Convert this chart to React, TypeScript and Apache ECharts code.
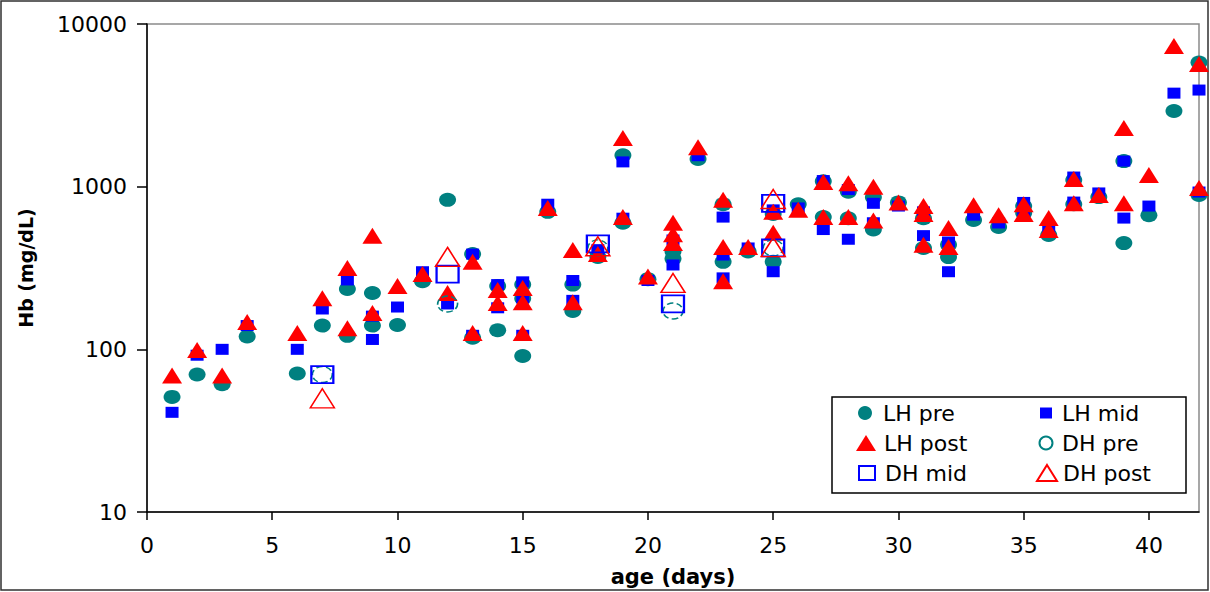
import React, { useEffect, useRef } from "react";
import * as echarts from "echarts";

// [age (days), Hb (mg/dL)]
const lhPre: [number, number][] = [
  [1, 51], [2, 70], [3, 61], [4, 120], [6, 71], [7, 140], [8, 235], [8, 121],
  [9, 222], [9, 140], [10, 141], [11, 262], [12, 830], [13, 385], [13, 118],
  [14, 245], [14, 131], [15, 250], [15, 205], [15, 91], [16, 700], [17, 250],
  [17, 172], [18, 370], [19, 1560], [19, 600], [20, 270], [21, 400], [21, 360],
  [22, 1480], [23, 780], [23, 345], [24, 400], [25, 680], [25, 345], [26, 780],
  [27, 1080], [27, 650], [28, 930], [28, 640], [29, 860], [29, 545], [30, 800],
  [31, 640], [31, 420], [32, 369], [32, 440], [33, 624], [34, 565], [35, 690],
  [35, 760], [36, 505], [37, 1098], [37, 780], [38, 863], [39, 1436], [39, 450],
  [40, 668], [41, 2918], [42, 5800], [42, 888],
];
const lhMid: [number, number][] = [
  [1, 41], [2, 92], [3, 100], [4, 140], [6, 100], [7, 177], [8, 267], [9, 160],
  [9, 115], [10, 182], [11, 300], [12, 190], [13, 385], [13, 122], [14, 250],
  [14, 180], [15, 260], [15, 207], [15, 122], [16, 780], [17, 265], [17, 200],
  [18, 410], [19, 1420], [19, 640], [20, 265], [21, 470], [21, 330], [22, 1550],
  [23, 650], [23, 380], [23, 275], [24, 420], [25, 720], [25, 300], [26, 740],
  [27, 1090], [27, 545], [28, 960], [28, 475], [29, 790], [29, 600], [30, 760],
  [31, 700], [31, 500], [32, 457], [32, 300], [33, 668], [34, 598], [35, 800],
  [35, 700], [36, 557], [37, 1146], [37, 804], [38, 915], [39, 1436], [39, 641],
  [40, 760], [41, 3758], [42, 3926], [42, 927],
];
const lhPost: [number, number][] = [
  [1, 69], [2, 99], [3, 69], [4, 147], [6, 126], [7, 206], [8, 316], [8, 135],
  [9, 500], [9, 167], [10, 245], [11, 290], [12, 222], [13, 345], [13, 126],
  [14, 232], [14, 193], [15, 238], [15, 195], [15, 126], [16, 740], [17, 408],
  [17, 195], [18, 385], [19, 1990], [19, 650], [20, 280], [21, 600], [21, 510],
  [21, 450], [22, 1750], [23, 830], [23, 425], [23, 262], [24, 425], [25, 700],
  [25, 520], [26, 720], [27, 1070], [27, 650], [28, 1050], [28, 650], [29, 1000],
  [29, 620], [30, 800], [31, 760], [31, 680], [31, 440], [32, 557], [32, 425],
  [33, 770], [34, 668], [35, 780], [35, 680], [36, 641], [36, 541], [37, 1114],
  [37, 790], [38, 888], [39, 2291], [39, 790], [40, 1178], [41, 7312],
  [42, 5675], [42, 980],
];
const dhPre: [number, number][] = [[7, 70], [12, 190], [18, 420], [21, 172], [25, 420]];
const dhMid: [number, number][] = [[7, 70], [12, 290], [18, 445], [21, 190], [25, 790], [25, 420]];
const dhPost: [number, number][] = [[7, 50], [12, 370], [18, 430], [21, 256], [25, 840], [25, 425]];

const seriesNames = ["LH pre", "LH mid", "LH post", "DH pre", "DH mid", "DH post"];

const TEAL = "#008080";
const BLUE = "#0000FF";
const RED = "#FF0000";
const FONT = "DejaVu Sans";

export default function App() {
  const ref = useRef<HTMLDivElement>(null);
  useEffect(() => {
    if (!ref.current) return;
    const chart = echarts.init(ref.current, null, { renderer: "svg" });

    const legendSpec = [
      { name: seriesNames[0], cx: 866, cy: 413, w: 16, h: 14, tx: 884 },
      { name: seriesNames[1], cx: 1046, cy: 413, w: 12, h: 11, tx: 1062 },
      { name: seriesNames[2], cx: 866, cy: 443, w: 20, h: 16, tx: 884 },
      { name: seriesNames[3], cx: 1046, cy: 443, w: 15, h: 13, tx: 1062 },
      { name: seriesNames[4], cx: 866, cy: 473, w: 16, h: 14, tx: 884 },
      { name: seriesNames[5], cx: 1046, cy: 473, w: 20, h: 16, tx: 1062 },
    ];

    const legends = legendSpec.map((l) => ({
      data: [l.name],
      left: l.cx - l.w / 2,
      top: l.cy - 12,
      padding: 0,
      itemWidth: l.w,
      itemHeight: l.h,
      selectedMode: false,
      z: 6,
      textStyle: {
        fontFamily: FONT,
        fontSize: 22,
        color: "#000",
        lineHeight: 24,
        padding: [0, 0, 0, Math.max(0, l.tx - (l.cx + l.w / 2 + 5))],
      },
    }));

    const base = { type: "scatter", emphasis: { disabled: true } };

    chart.setOption({
      animation: false,
      backgroundColor: "#fff",
      textStyle: { fontFamily: FONT },
      tooltip: { show: false },
      grid: {
        left: 147,
        top: 24,
        width: 1052,
        height: 488,
        show: true,
        borderColor: "#8a8a8a",
        borderWidth: 1.5,
        backgroundColor: "transparent",
      },
      legend: legends,
      graphic: [
        {
          type: "rect",
          z: 0,
          silent: true,
          shape: { x: 1, y: 1, width: 1207, height: 589 },
          style: { fill: "none", stroke: "#303030", lineWidth: 1.5 },
        },
        {
          type: "rect",
          z: 3,
          silent: true,
          shape: { x: 832, y: 397, width: 354, height: 96 },
          style: { fill: "#fff", stroke: "#000", lineWidth: 1.5 },
        },
      ],
      xAxis: {
        type: "value",
        min: 0,
        max: 42,
        interval: 5,
        name: "age (days)",
        nameLocation: "middle",
        nameGap: 54,
        nameTextStyle: { fontFamily: FONT, fontSize: 21, fontWeight: "bold", color: "#000" },
        axisLine: { show: true, onZero: false, lineStyle: { color: "#000", width: 1.5 } },
        axisTick: { show: true, inside: false, length: 8, lineStyle: { color: "#000", width: 1.5 } },
        axisLabel: {
          showMaxLabel: false,
          margin: 22,
          fontFamily: FONT,
          fontSize: 22,
          color: "#000",
        },
        splitLine: { show: false },
      },
      yAxis: {
        type: "log",
        logBase: 10,
        min: 10,
        max: 10000,
        name: "Hb (mg/dL)",
        nameLocation: "middle",
        nameGap: 112,
        nameTextStyle: { fontFamily: FONT, fontSize: 19, fontWeight: "bold", color: "#000" },
        axisLine: { show: true, onZero: false, lineStyle: { color: "#000", width: 1.5 } },
        axisTick: { show: true, inside: false, length: 10, lineStyle: { color: "#000", width: 1.5 } },
        axisLabel: {
          margin: 20,
          fontFamily: FONT,
          fontSize: 22,
          color: "#000",
          formatter: (v: number) => String(Math.round(v)),
        },
        splitLine: { show: false },
        minorTick: { show: false },
      },
      series: [
        {
          ...base,
          name: seriesNames[0],
          data: lhPre,
          symbol: "circle",
          symbolSize: [17, 14],
          itemStyle: { color: TEAL, opacity: 1 },
          z: 2,
        },
        {
          ...base,
          name: seriesNames[1],
          data: lhMid,
          symbol: "rect",
          symbolSize: [13, 11],
          itemStyle: { color: BLUE, opacity: 1 },
          z: 3,
        },
        {
          ...base,
          name: seriesNames[2],
          data: lhPost,
          symbol: "triangle",
          symbolSize: [20, 16],
          itemStyle: { color: RED, opacity: 1 },
          z: 4,
        },
        {
          ...base,
          name: seriesNames[3],
          data: dhPre,
          symbol: "circle",
          symbolSize: [20, 16],
          itemStyle: { color: "rgba(255,255,255,0)", borderColor: TEAL, borderWidth: 1.5, borderType: "dashed", opacity: 1 },
          z: 5,
        },
        {
          ...base,
          name: seriesNames[4],
          data: dhMid,
          symbol: "rect",
          symbolSize: [22, 17],
          itemStyle: { color: "rgba(255,255,255,0)", borderColor: BLUE, borderWidth: 2, opacity: 1 },
          z: 5,
        },
        {
          ...base,
          name: seriesNames[5],
          data: dhPost,
          symbol: "triangle",
          symbolSize: [24, 19],
          itemStyle: { color: "rgba(255,255,255,0)", borderColor: RED, borderWidth: 1.5, opacity: 1 },
          z: 5,
        },
      ],
    });
    return () => chart.dispose();
  }, []);

  return (
    <div
      ref={ref}
      style={{ position: "absolute", left: 0, top: 0, width: 1210, height: 592, background: "#fff" }}
    />
  );
}
